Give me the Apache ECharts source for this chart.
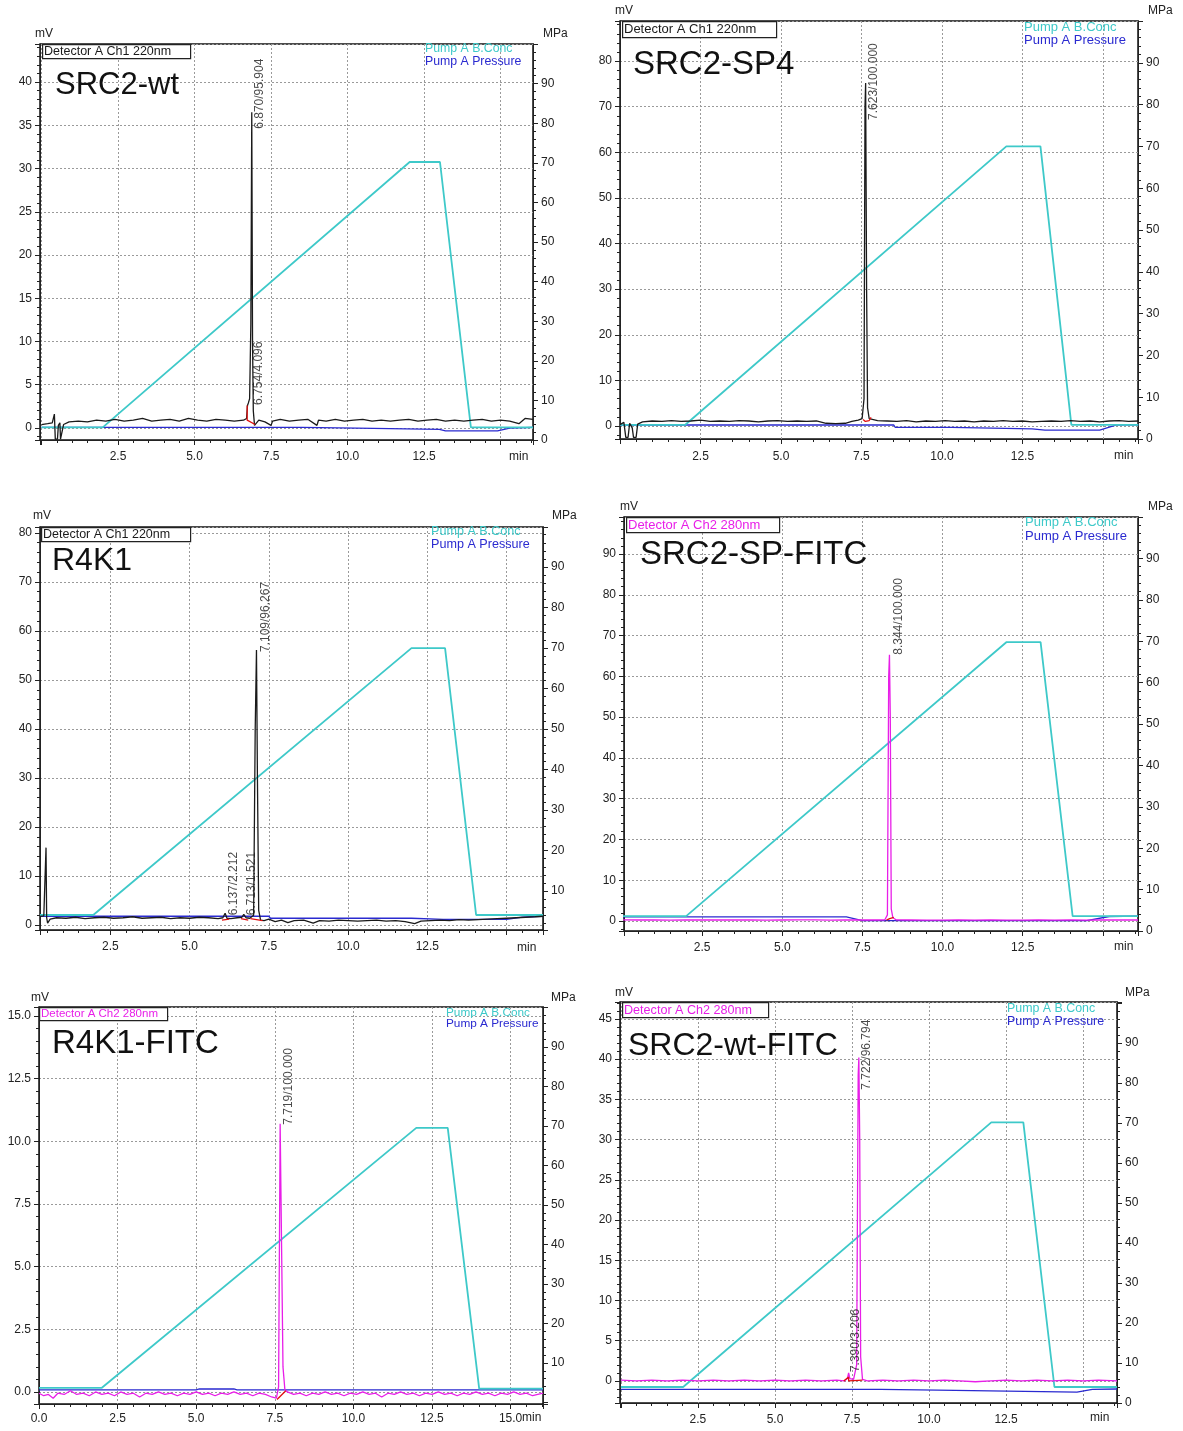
<!DOCTYPE html>
<html><head><meta charset="utf-8">
<script src="https://cdn.jsdelivr.net/npm/echarts@6/dist/echarts.min.js"></script>
<style>html,body{margin:0;padding:0;background:#fff}#c{width:1183px;height:1431px}</style>
</head><body><div id="c"></div>
<script>
// ---------------- DATA ----------------
const panelNames = ['SRC2-wt', 'SRC2-SP4', 'R4K1', 'SRC2-SP-FITC', 'R4K1-FITC', 'SRC2-wt-FITC'];
const detectorNames = ['Detector A Ch1 220nm', 'Detector A Ch1 220nm', 'Detector A Ch1 220nm',
  'Detector A Ch2 280nm', 'Detector A Ch2 280nm', 'Detector A Ch2 280nm'];
const legendNames = ['Pump A B.Conc', 'Pump A Pressure'];

// detector traces [min, mV]
const trace1 = [[0,0.4],[0.2,0.5],[0.35,0.6],[0.42,1.6],[0.45,-1.3],[0.52,-1.3],[0.55,0.3],[0.6,0.6],[0.62,-1.3],[0.68,-1.3],[0.72,0.4],[0.9,0.7],[1.2,0.8],[1.5,0.7],[1.8,0.9],[2.1,0.8],[2.4,1.0],[2.7,0.8],[3.0,0.9],[3.3,1.1],[3.6,0.8],[3.9,0.9],[4.2,1.0],[4.5,0.8],[4.8,1.1],[5.1,0.9],[5.4,0.8],[5.7,1.0],[6.0,0.9],[6.3,0.8],[6.6,0.9],[6.70,1.1],[6.73,2.6],[6.76,2.9],[6.80,3.4],[6.84,12],[6.87,36.5],[6.895,10],[6.92,2],[6.96,0.3],[7.0,0.5],[7.1,0.9],[7.3,0.7],[7.5,0.3],[7.55,0.8],[7.8,1.0],[8.1,0.8],[8.4,0.9],[8.7,1.0],[9.0,0.3],[9.05,0.9],[9.3,0.8],[9.6,1.0],[9.9,0.8],[10.2,0.9],[10.5,1.0],[10.8,0.8],[11.1,0.9],[11.4,0.8],[11.7,0.9],[12.0,1.0],[12.3,0.8],[12.6,0.9],[12.9,1.0],[13.2,0.8],[13.5,0.9],[13.8,0.8],[14.1,0.9],[14.4,1.0],[14.7,0.8],[15.0,0.9],[15.3,0.8],[15.6,0.5],[15.8,1.1],[16.06,1.0]];
const trace2 = [[0,0.3],[0.12,0.8],[0.18,-2.5],[0.25,-2.5],[0.3,0.6],[0.38,-0.4],[0.42,-2.5],[0.5,-2.5],[0.55,0.4],[0.7,0.9],[1.0,1.1],[1.3,1.0],[1.6,1.2],[1.9,1.0],[2.2,1.1],[2.5,1.3],[2.8,1.0],[3.1,1.1],[3.4,1.0],[3.7,1.2],[4.0,1.1],[4.3,0.9],[4.6,1.1],[4.9,1.2],[5.2,1.0],[5.5,1.1],[5.8,1.0],[6.1,1.1],[6.4,0.6],[6.7,0.5],[7.0,0.6],[7.2,1.0],[7.4,1.3],[7.52,1.6],[7.58,6],[7.61,70],[7.63,75.2],[7.66,30],[7.69,4],[7.74,1.6],[7.8,1.4],[8.0,1.2],[8.3,1.1],[8.6,1.0],[8.9,1.2],[9.2,0.9],[9.5,1.1],[9.8,1.0],[10.1,1.2],[10.4,1.0],[10.7,1.1],[11.0,0.9],[11.3,1.1],[11.6,1.0],[11.9,1.2],[12.2,1.0],[12.5,1.1],[12.8,0.9],[13.1,1.0],[13.4,1.1],[13.7,1.0],[14.0,1.2],[14.3,1.0],[14.6,1.1],[14.9,0.9],[15.2,1.1],[15.5,1.2],[15.8,1.0],[16.1,1.1]];
const trace3 = [[0.28,1.8],[0.4,1.9],[0.45,2.0],[0.47,15.8],[0.49,1.5],[0.52,0.4],[0.6,1.2],[0.8,1.5],[1.1,1.4],[1.4,1.6],[1.7,1.3],[2.0,1.5],[2.3,1.6],[2.6,1.4],[2.9,1.5],[3.2,1.7],[3.5,1.4],[3.8,1.5],[4.1,1.6],[4.4,1.3],[4.7,1.5],[5.0,1.4],[5.3,1.6],[5.6,1.5],[5.9,1.3],[6.05,1.5],[6.12,2.4],[6.18,1.4],[6.3,1.3],[6.5,1.5],[6.65,1.6],[6.71,2.2],[6.78,1.5],[6.9,1.4],[7.02,2],[7.07,40],[7.11,56.1],[7.14,30],[7.18,3],[7.24,1.0],[7.35,0.9],[7.5,1.2],[7.7,0.7],[7.9,1.0],[8.1,0.5],[8.3,0.9],[8.6,1.0],[8.9,0.4],[9.1,0.9],[9.4,0.8],[9.7,1.0],[10.0,0.9],[10.3,0.8],[10.6,0.9],[10.9,1.0],[11.2,0.8],[11.5,0.9],[11.8,0.7],[12.1,0.3],[12.3,0.8],[12.6,0.9],[12.9,1.0],[13.2,0.9],[13.5,1.1],[13.8,1.0],[14.1,1.1],[14.4,1.2],[14.7,1.3],[15.0,1.4],[15.3,1.5],[15.6,1.6],[15.9,1.7],[16.15,1.8]];
const trace4 = [[0,0.3],[0.5,0.25],[1,0.3],[1.5,0.2],[2,0.25],[2.5,0.3],[3,0.25],[3.5,0.3],[4,0.25],[4.5,0.2],[5,0.25],[5.5,0.3],[6,0.3],[6.5,0.2],[7,0.25],[7.5,0.3],[8,0.25],[8.2,0.3],[8.28,1.5],[8.32,60],[8.344,65.3],[8.37,50],[8.40,3],[8.45,0.8],[8.55,0.3],[9,0.25],[9.5,0.2],[10,0.2],[10.5,0.25],[11,0.2],[11.5,0.25],[12,0.2],[12.5,0.2],[13,0.25],[13.5,0.2],[14,0.25],[14.5,0.2],[15,0.25],[15.5,0.3],[16.1,0.25]];
const trace5 = [[0,-0.05],[0.15,-0.15],[0.3,-0.1],[0.45,-0.25],[0.6,-0.05],[0.8,-0.1],[1.0,0.05],[1.2,-0.1],[1.4,-0.05],[1.6,-0.15],[1.8,0.0],[2.0,-0.1],[2.2,-0.05],[2.4,-0.15],[2.6,0.0],[2.8,-0.1],[3.0,-0.05],[3.2,-0.2],[3.4,-0.05],[3.6,-0.1],[3.8,0.0],[4.0,-0.1],[4.2,-0.05],[4.4,-0.15],[4.6,-0.05],[4.8,-0.1],[5.0,0.0],[5.2,-0.1],[5.4,-0.05],[5.6,-0.15],[5.8,-0.05],[6.0,-0.1],[6.2,0.0],[6.4,-0.1],[6.6,-0.05],[6.8,-0.15],[7.0,-0.05],[7.2,-0.1],[7.4,-0.2],[7.55,-0.25],[7.62,0.2],[7.67,10.7],[7.72,10.7],[7.76,1.0],[7.82,0.1],[7.9,0.0],[8.1,-0.1],[8.3,-0.05],[8.5,-0.15],[8.7,-0.05],[8.9,-0.1],[9.1,0.0],[9.3,-0.1],[9.5,-0.05],[9.7,-0.15],[9.9,-0.05],[10.1,-0.1],[10.3,0.0],[10.5,-0.1],[10.7,-0.05],[10.9,-0.2],[11.1,-0.05],[11.3,-0.1],[11.5,0.0],[11.7,-0.1],[11.9,-0.05],[12.1,-0.15],[12.3,-0.05],[12.5,-0.1],[12.7,0.0],[12.9,-0.1],[13.1,-0.05],[13.3,-0.15],[13.5,-0.05],[13.7,-0.1],[13.9,0.0],[14.1,-0.1],[14.3,-0.05],[14.5,-0.15],[14.7,-0.05],[14.9,-0.1],[15.1,0.0],[15.3,-0.1],[15.5,-0.05],[15.7,-0.15],[16.03,-0.05]];
const trace6 = [[0,0.1],[0.5,0.0],[1,0.1],[1.5,0.0],[2,0.1],[2.5,0.0],[3,0.1],[3.5,0.0],[4,0.1],[4.5,0.0],[5,0.1],[5.5,0.0],[6,0.1],[6.5,0.0],[7,0.1],[7.25,0.0],[7.35,0.3],[7.39,1.0],[7.43,0.3],[7.55,0.2],[7.65,2],[7.70,38],[7.722,40.2],[7.75,30],[7.78,3],[7.84,0.2],[8.0,0.0],[8.5,0.1],[9,0.0],[9.5,0.1],[10,0.0],[10.5,0.1],[11,0.0],[11.5,-0.1],[12,0.0],[12.5,0.1],[13,0.0],[13.5,0.1],[14,0.0],[14.5,0.1],[15,0.0],[15.5,0.1],[16.1,0.0]];

// integration marks (red) [min, mV]
const red1 = [[[6.72,2.6],[6.72,0.9],[6.98,0.4]]];
const red2 = [[[7.55,1.4],[7.62,1.0],[7.74,1.2],[7.8,1.9]]];
const red3 = [[[6.02,1.0],[6.25,1.2]],[[6.62,1.3],[6.85,1.0]],[[6.92,1.3],[7.3,0.9]]];
const red4 = [[[8.25,0.2],[8.35,0.6],[8.48,0.9]]];
const red5 = [[[7.57,-0.3],[7.85,0.05]]];
const red6 = [[[7.23,0.0],[7.39,0.5],[7.39,0.0],[7.84,0.1]]];

// Pump A B.Conc [min, value on right axis]
const conc1 = [[0,3.2],[2.0,3.2],[12.03,70.2],[13.02,70.2],[14.03,3.2],[16.06,3.2]];
const conc2 = [[0,3.4],[2.03,3.4],[12.0,70],[13.06,70],[14.02,3.4],[16.1,3.4]];
const conc3 = [[0.28,4.1],[1.96,4.1],[12.0,70],[13.06,70],[14.04,4.1],[16.15,4.1]];
const conc4 = [[0,3.6],[2.0,3.6],[12.0,69.8],[13.06,69.8],[14.06,3.6],[16.1,3.6]];
const conc5 = [[0,3.7],[2.0,3.7],[12.0,69.5],[13.0,69.5],[14.0,3.5],[16.03,3.5]];
const conc6 = [[0,4.0],[2.02,4.0],[12.02,70.2],[13.06,70.2],[14.07,4.0],[16.1,4.0]];

// Pump A Pressure [min, MPa]
const pres1 = [[0,3.2],[8.5,3.2],[8.55,3.0],[10.3,3.0],[10.35,2.7],[13.0,2.7],[13.2,2.3],[14.9,2.3],[15.3,3.0],[16.06,3.2]];
const pres2 = [[0,3.35],[8.5,3.35],[8.55,2.8],[10.3,2.8],[10.35,2.5],[12.8,2.4],[13.2,2.1],[14.9,2.1],[15.4,3.3],[16.1,3.4]];
const pres3 = [[0.28,3.8],[7.5,3.8],[7.55,3.3],[12,3.3],[13,3.0],[15,3.0],[15.5,3.6],[16.15,3.8]];
const pres4 = [[0,3.4],[7,3.4],[7.5,2.5],[14.5,2.5],[15.2,3.5],[16.1,3.6]];
const pres5 = [[0,3.2],[5.0,3.2],[5.1,3.4],[6.2,3.4],[6.3,3.2],[16.03,3.2]];
const pres6 = [[0,3.4],[8.43,3.4],[8.45,3.2],[10.27,3.2],[10.3,2.7],[14.8,2.7],[15.3,3.4],[16.1,3.5]];

// peak labels [retention time, apex mV, text]
const peaks1 = [[6.870, 36.5, '6.870/95.904'], [6.754, 2.7, '6.754/4.096']];
const peaks2 = [[7.623, 75.2, '7.623/100.000']];
const peaks3 = [[7.109, 56.1, '7.109/96.267'], [6.137, 2.4, '6.137/2.212'], [6.713, 2.2, '6.713/1.521']];
const peaks4 = [[8.344, 65.3, '8.344/100.000']];
const peaks5 = [[7.719, 10.7, '7.719/100.000']];
const peaks6 = [[7.722, 40.2, '7.722/96.794'], [7.390, 1.0, '7.390/3.206']];

const traces = [trace1, trace2, trace3, trace4, trace5, trace6];
const reds = [red1, red2, red3, red4, red5, red6];
const concs = [conc1, conc2, conc3, conc4, conc5, conc6];
const press = [pres1, pres2, pres3, pres4, pres5, pres6];
const peaks = [peaks1, peaks2, peaks3, peaks4, peaks5, peaks6];

// ---------------- LAYOUT ----------------
const BLACK = '#1a1a1a', MAG = '#e81ee8', CYAN = '#3ec9c9', BLUE = '#2a2ad0', RED = '#e01010';
const L = [
  {g:[40,44,493,396], x:[-0.05,16.06], yl:[-1.39,44.4], ls:5, yr:[0,100], tc:BLACK, dc:BLACK,
   title:[55,88,31], det:[42,44,148,14,12.5], leg:[425,49,62,12.3], mv:[42,35], mpa:[543,35], minx:[519,458],
   lab:[[0,34.6,8],[0,2.66,10]], r0:true, xm:11},
  {g:[620,21,518,418], x:[0,16.09], yl:[-2.85,88.8], ls:10, yr:[0,100], tc:BLACK, dc:BLACK,
   title:[633,68,33], det:[622,21,154,16,13], leg:[1024,28,41,13], mv:[622,12], mpa:[1148,12], minx:[1124,457],
   lab:[[0,67.1,8]], r0:true, xm:12},
  {g:[40,527,503,403], x:[0.28,16.15], yl:[-1.0,81.2], ls:10, yr:[0.4,99.9], tc:BLACK, dc:BLACK,
   title:[52,564,32], det:[41,527,149,14,12.5], leg:[431,532,545,12.6], mv:[40,517], mpa:[552,517], minx:[527,949],
   lab:[[0,55.7,9],[0,2.0,8],[0,2.0,8]], r0:false, xm:11},
  {g:[624,517,514,414], x:[0.06,16.1], yl:[-2.45,99.1], ls:10, yr:[0,100], tc:MAG, dc:MAG,
   title:[640,558,33], det:[626,517,153,15,13], leg:[1025,523,537,13], mv:[627,508], mpa:[1148,508], minx:[1124,948],
   lab:[[0,65.3,9]], r0:true, xm:11},
  {g:[39,1007,504,397], x:[0,16.03], yl:[-0.48,15.36], ls:2.5, dec:true, yr:[-0.4,100.1], tc:MAG, dc:MAG,
   title:[52,1047,33], det:[39,1007,128,13,11.5], leg:[446,1013,1024,11.8], mv:[38,999], mpa:[551,999], minx:[522,1419],
   lab:[[0,10.66,7]], r0:false, xm:9, show0:true, show15:true},
  {g:[620,1002,497,401], x:[-0.03,16.1], yl:[-2.74,47.1], ls:5, yr:[0,100.3], tc:MAG, dc:MAG,
   title:[628,1049,32], det:[622,1002,146,15,12.6], leg:[1007,1009,1022,12.4], mv:[622,994], mpa:[1125,994], minx:[1100,1419],
   lab:[[0,36.2,8],[0,1.1,7]], r0:true, xm:11}
];

const FONT = '"Liberation Sans", Arial, sans-serif';
const isMul = (v, s) => Math.abs(v / s - Math.round(v / s)) < 1e-6;

const grids = [], xAxes = [], yAxes = [], series = [], graphics = [];
L.forEach((p, i) => {
  grids.push({left:p.g[0], top:p.g[1], width:p.g[2], height:p.g[3], show:true, borderColor:'#111', borderWidth:1.5, containLabel:false});
  xAxes.push({gridIndex:i, type:'value', min:p.x[0], max:p.x[1], minInterval:2.5, maxInterval:2.5,
    axisLine:{show:true, onZero:false, lineStyle:{color:'#222', width:1}},
    axisTick:{show:true, inside:false, length:5, lineStyle:{color:'#222'}},
    minorTick:{show:true, splitNumber:5, length:3, lineStyle:{color:'#222'}},
    axisLabel:{color:'#222', fontSize:12, fontFamily:FONT, margin:p.xm, showMinLabel:true, showMaxLabel:true,
      formatter:v => (isMul(v,2.5) && (v > 0.01 || p.show0) && (v < 14.9 || p.show15)) ? v.toFixed(1) : ''},
    splitLine:{show:true, lineStyle:{color:'#9a9a9a', type:[2,2], width:1}}
  });
  yAxes.push({gridIndex:i, type:'value', position:'left', min:p.yl[0], max:p.yl[1], minInterval:p.ls, maxInterval:p.ls,
    axisLine:{show:true, onZero:false, lineStyle:{color:'#222'}},
    axisTick:{show:true, length:5, lineStyle:{color:'#222'}},
    minorTick:{show:true, splitNumber:5, length:3, lineStyle:{color:'#222'}},
    axisLabel:{color:'#222', fontSize:12, fontFamily:FONT, margin:8,
      formatter:v => isMul(v,p.ls) ? (p.dec ? v.toFixed(1) : String(Math.round(v))) : ''},
    splitLine:{show:true, lineStyle:{color:'#9a9a9a', type:[2,2], width:1}}
  });
  yAxes.push({gridIndex:i, type:'value', position:'right', min:p.yr[0], max:p.yr[1], minInterval:10, maxInterval:10,
    axisLine:{show:true, onZero:false, lineStyle:{color:'#222'}},
    axisTick:{show:true, length:5, lineStyle:{color:'#222'}},
    minorTick:{show:true, splitNumber:5, length:3, lineStyle:{color:'#222'}},
    axisLabel:{color:'#222', fontSize:12, fontFamily:FONT, margin:8,
      formatter:v => (isMul(v,10) && v < 95 && (v > 5 || p.r0)) ? String(Math.round(v)) : ''},
    splitLine:{show:false}
  });
  const yl = 2 * i, yr = 2 * i + 1;
  series.push({type:'line', xAxisIndex:i, yAxisIndex:yr, data:press[i], showSymbol:false, silent:true, z:2,
    lineStyle:{color:BLUE, width:1.3}, animation:false});
  series.push({type:'line', xAxisIndex:i, yAxisIndex:yr, data:concs[i], showSymbol:false, silent:true, z:3,
    lineStyle:{color:CYAN, width:1.8}, animation:false});
  series.push({type:'line', xAxisIndex:i, yAxisIndex:yl, data:traces[i], showSymbol:false, silent:true, z:4,
    lineStyle:{color:p.tc, width:1.3}, animation:false});
  reds[i].forEach(seg => series.push({type:'line', xAxisIndex:i, yAxisIndex:yl, data:seg, showSymbol:false, silent:true, z:5,
    lineStyle:{color:RED, width:1.3}, animation:false}));
  series.push({type:'scatter', xAxisIndex:i, yAxisIndex:yl, symbolSize:1, silent:true, z:6, animation:false,
    itemStyle:{color:'rgba(0,0,0,0)'},
    data:peaks[i].map((pk, k) => ({value:[pk[0], p.lab[k][1]], name:pk[2],
      label:{show:true, position:'inside', rotate:90, align:'left', verticalAlign:'middle', offset:[0, p.lab[k][2]],
        formatter:pk[2], color:'#1a1a1a', fontSize:12, fontFamily:FONT}}))
  });
  // texts
  graphics.push({type:'text', left:p.title[0], top:p.title[1] - p.title[2] * 0.58, z:20,
    style:{text:panelNames[i], fill:'#111', font:`${p.title[2]}px ${FONT}`}});
  graphics.push({type:'rect', left:p.det[0], top:p.det[1], z:20,
    shape:{width:p.det[2], height:p.det[3]}, style:{fill:'#fff', stroke:'#222', lineWidth:1.2}});
  graphics.push({type:'text', left:p.det[0] + 2, top:p.det[1] + (p.det[3] - p.det[4]) / 2 + 0.5, z:21,
    style:{text:detectorNames[i], fill:p.dc, font:`${p.det[4]}px ${FONT}`}});
  graphics.push({type:'text', left:p.leg[0], top:p.leg[1] - p.leg[3] * 0.55, z:20,
    style:{text:legendNames[0], fill:CYAN, font:`${p.leg[3]}px ${FONT}`}});
  graphics.push({type:'text', left:p.leg[0], top:p.leg[2] - p.leg[3] * 0.55, z:20,
    style:{text:legendNames[1], fill:BLUE, font:`${p.leg[3]}px ${FONT}`}});
  graphics.push({type:'text', left:p.mv[0] - 7, top:p.mv[1] - 7, z:20,
    style:{text:'mV', fill:'#222', font:`12px ${FONT}`}});
  graphics.push({type:'text', left:p.mpa[0], top:p.mpa[1] - 7, z:20,
    style:{text:'MPa', fill:'#222', font:`12px ${FONT}`}});
  graphics.push({type:'text', left:p.minx[0] - (p.show15 ? 0 : 10), top:p.minx[1] - 7, z:20,
    style:{text:'min', fill:'#222', font:`12px ${FONT}`}});
});

const chart = echarts.init(document.getElementById('c'), null, {renderer:'canvas'});
chart.setOption({backgroundColor:'#fff', animation:false, grid:grids, xAxis:xAxes, yAxis:yAxes, series:series, graphic:graphics});
</script></body></html>
